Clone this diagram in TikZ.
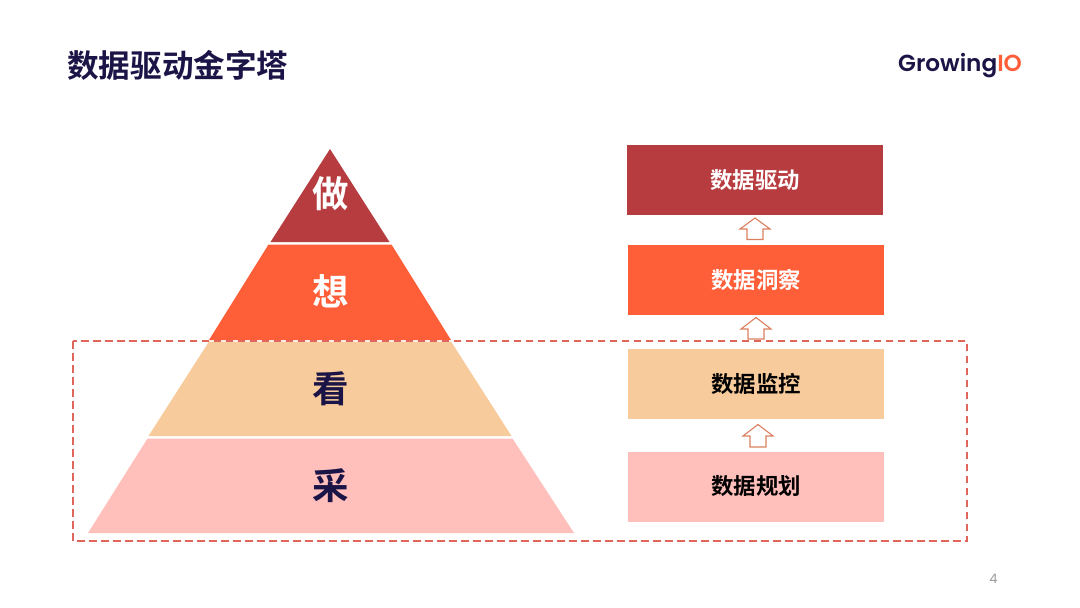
\documentclass[tikz,border=0pt]{standalone}
\usepackage{fontspec}
\setmainfont{Poppins}
\newfontfamily\logofont{Poppins SemiBold}
\newfontfamily\cjk{Noto Sans CJK SC}[BoldFont={Noto Sans CJK SC Bold}]
\definecolor{navy}{HTML}{1B1446}
\definecolor{cred}{HTML}{B73C3F}
\definecolor{corange}{HTML}{FF5F38}
\definecolor{cpeach}{HTML}{F7CB9B}
\definecolor{cpink}{HTML}{FFBFBB}
\definecolor{cdash}{HTML}{E0655A}
\definecolor{carrow}{HTML}{DC7F5E}
\tikzset{
  x=1pt,y=-1pt,
  box/.style={draw=none,minimum width=256pt,minimum height=70pt,inner sep=0pt,anchor=center,font=\cjk\bfseries\fontsize{22.4}{22.4}\selectfont},
  layerlabel/.style={inner sep=0pt,font=\cjk\bfseries\fontsize{36.5}{36.5}\selectfont},
  uparrow/.style={draw=carrow,fill=white,line width=1.1pt,line join=miter},
  dashbox/.style={draw=cdash,line width=1.6pt,dash pattern=on 7.5pt off 4.5pt}
}
\begin{document}
\begin{tikzpicture}
\useasboundingbox (0,0) rectangle (1080,608);
\fill[white] (0,0) rectangle (1080,608);
% pyramid layers
\fill[cred] (330,149) -- (389.5,242) -- (270.5,242) -- cycle;
\fill[corange] (268.5,244.5) -- (391.5,244.5) -- (451,340) -- (209,340) -- cycle;
\fill[cpeach] (209,341.5) -- (451,341.5) -- (511.5,436) -- (148.5,436) -- cycle;
\fill[cpink] (147.5,438.5) -- (512.5,438.5) -- (574,533) -- (88,533) -- cycle;
% dashed frame
\draw[dashbox] (73,341) rectangle (967,541);
% pyramid labels
\node[layerlabel,text=white] (lzuo) at (331,194) {做};
\node[layerlabel,text=white] (lxiang) at (330.5,291.5) {想};
\node[layerlabel,text=navy] (lkan) at (330.5,388.5) {看};
\node[layerlabel,text=navy] (lcai) at (330.5,485.5) {采};
% right boxes
\node[box,fill=cred,text=white] (b1) at (755,180) {数据驱动};
\node[box,fill=corange,text=white] (b2) at (756,280) {数据洞察};
\node[box,fill=cpeach,text=black] (b3) at (756,384) {数据监控};
\node[box,fill=cpink,text=black] (b4) at (756,486.5) {数据规划};
% arrows
\draw[uparrow] (755,218) -- (770,229) -- (763,229) -- (763,239.5) -- (747,239.5) -- (747,229) -- (740,229) -- cycle;
\draw[uparrow] (756,317.5) -- (771,329) -- (764,329) -- (764,339) -- (748,339) -- (748,329) -- (741,329) -- cycle;
\draw[uparrow] (758,424.5) -- (773,436) -- (766,436) -- (766,447) -- (750,447) -- (750,436) -- (743,436) -- cycle;
% title, logo, page number
\node[anchor=west,inner sep=0pt,text=navy,font=\cjk\bfseries\fontsize{31.6}{31.6}\selectfont] (title) at (67,65) {数据驱动金字塔};
\node[anchor=west,inner sep=0pt,font=\logofont\fontsize{23.2}{23.2}\selectfont] (logo) at (898,65.5) {\textcolor{navy}{Growing}\textcolor{corange}{IO}};
\node[inner sep=0pt,text=gray!80,font=\fontsize{13}{13}\selectfont] (page) at (993.5,579) {4};
\end{tikzpicture}
\end{document}
